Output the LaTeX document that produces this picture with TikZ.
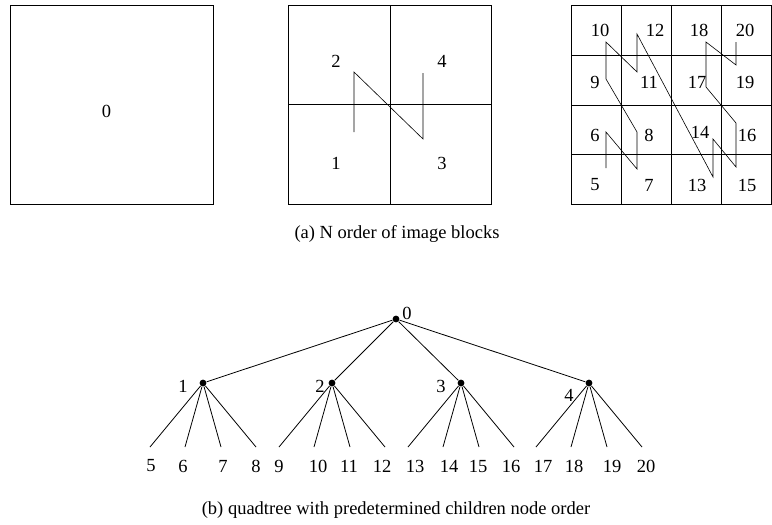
\documentclass[tikz,border=0pt]{standalone}
\usepackage{fontspec}
\setmainfont{Liberation Serif}
\usepackage{tikz}
\usetikzlibrary{calc}

\begin{document}
\begin{tikzpicture}[x=1pt, y=-1pt, line width=0.8pt,
  every node/.style={inner sep=0pt, font=\fontsize{18.5}{22}\selectfont},
  dot/.style={circle, fill, minimum size=6.8pt},
  zig/.style={line width=0.6pt}]
  \useasboundingbox (0,0) rectangle (772,525);
  % single block
  \draw (10,5) rectangle (213,204);
  \node (b0) at (106.5,111) {0};
  % four blocks
  \draw (288,5) rectangle (491,204);
  \draw (390,5) -- (390,204);
  \draw (288,104) -- (491,104);
  \node (b2) at (336,61) {2};
  \node (b4) at (442,61) {4};
  \node (b1) at (336,163) {1};
  \node (b3) at (442,163) {3};
  \draw[zig] (354,132) -- (354,72) -- (423,139) -- (423,73);
  % sixteen blocks
  \draw (571,5) rectangle (771,204);
  \foreach \x in {621,671,721} \draw (\x,5) -- (\x,204);
  \foreach \y in {55,105,154} \draw (571,\y) -- (771,\y);
  \foreach \n/\x/\y in {10/600/30, 12/655/30, 18/699/30, 20/745/30,
                        9/595/82, 11/649/82, 17/697/82, 19/745/82,
                        6/595/135, 8/649/135, 14/700/132, 16/747/135,
                        5/595/185, 7/649/185, 13/697/185, 15/747/185}
    \node (c\n) at (\x,\y) {\n};
  \draw[zig] (606,168) -- (606,132) -- (637,169) -- (637,132)
    -- (606,79) -- (606,42) -- (637,72) -- (637,34)
    -- (713,177) -- (713,139) -- (736,167) -- (736,123)
    -- (706,87) -- (706,42) -- (736,65) -- (736,42);
  \node (capa) at (397,234) {(a) N order of image blocks};
  % quadtree
  \node[dot] (r) at (396,319) {};
  \node (rl) at (407,313) {0};
  \foreach \k/\x in {1/203, 2/332, 3/461, 4/589} {
    \node[dot] (n\k) at (\x,383) {};
    \draw (r) -- (n\k);
  }
  \node (l1) at (183,386) {1};
  \node (l2) at (320,386) {2};
  \node (l3) at (441,386) {3};
  \node (l4) at (569,395) {4};
  \foreach \k in {1,...,4} {
    \foreach \j/\dx in {1/-53, 2/-18, 3/18, 4/53} {
      \pgfmathtruncatemacro\leaf{4*\k+\j}
      \coordinate (e\leaf) at ($(n\k)+(\dx,64)$);
      \draw (n\k) -- (e\leaf);
    }
  }
  \foreach \x [count=\c from 5] in {151,183,223,256,279,318,349,382,
                                    415,449,478,511,543,574,612,646}
    \node (t\c) at (\x,466) {\c};
  \node (capb) at (396,510) {(b) quadtree with predetermined children node order};
\end{tikzpicture}
\end{document}
